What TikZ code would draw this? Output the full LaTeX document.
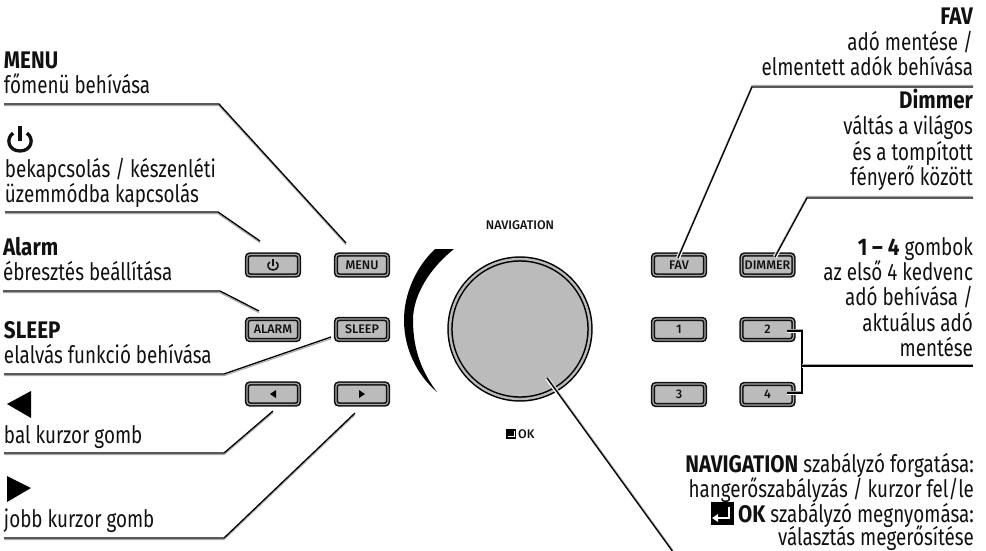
\documentclass[tikz,border=0pt]{standalone}
\usepackage{fontspec}
\setmainfont{Fira Sans}
\newfontfamily\lab[FakeStretch=0.785]{Fira Sans}
\newfontfamily\labb[FakeStretch=0.86,UprightFont=* Bold]{Fira Sans}
\newfontfamily\btnf[UprightFont=* Medium]{Fira Sans}
\newcommand{\bb}[1]{{\labb #1}}
\definecolor{bfill}{HTML}{BBBBBB}
\definecolor{dk}{HTML}{111111}
\begin{document}
\begin{tikzpicture}[x=1pt,y=-1pt,
  txt/.style={font=\lab\fontsize{24}{25}\selectfont,inner sep=0,outer sep=0,text=dk},
  tl/.style={txt,anchor=base west,align=left},
  tr/.style={txt,anchor=base east,align=right},
  btn/.style={draw=dk,double=gray!70,line width=1.6pt,double distance=1.2pt,fill=bfill,rounded corners=3pt,
    minimum width=52pt,minimum height=21pt,inner sep=0,text=dk,font=\btnf\fontsize{12.5}{13}\selectfont},
  conn/.style={line width=1.3pt,draw=black,line join=miter,
    preaction={draw=white,line width=4pt},
    preaction={draw=black!35,line width=1pt,transform canvas={yshift=#1}}},
  conn/.default=-1.7pt,
  powersize/.initial=5,
  powersym/.pic={\draw[line width=.3*\pgfkeysvalueof{/tikz/powersize}pt,line cap=butt,dk] (-.62*\pgfkeysvalueof{/tikz/powersize},-.62*\pgfkeysvalueof{/tikz/powersize})
      .. controls (-1.3*\pgfkeysvalueof{/tikz/powersize},-.2*\pgfkeysvalueof{/tikz/powersize}) and (-1.1*\pgfkeysvalueof{/tikz/powersize},\pgfkeysvalueof{/tikz/powersize}) .. (0,\pgfkeysvalueof{/tikz/powersize})
      .. controls (1.1*\pgfkeysvalueof{/tikz/powersize},\pgfkeysvalueof{/tikz/powersize}) and (1.3*\pgfkeysvalueof{/tikz/powersize},-.2*\pgfkeysvalueof{/tikz/powersize}) .. (.62*\pgfkeysvalueof{/tikz/powersize},-.62*\pgfkeysvalueof{/tikz/powersize});
    \draw[line width=.3*\pgfkeysvalueof{/tikz/powersize}pt,dk] (0,-1.25*\pgfkeysvalueof{/tikz/powersize}) -- (0,.1*\pgfkeysvalueof{/tikz/powersize});},
]
\useasboundingbox (0,0) rectangle (986,551);
% crescent
\fill[black] (435,249) .. controls (415,268) and (404,295) .. (404,320)
  .. controls (404,350) and (418,376) .. (437,392)
  .. controls (422,372) and (413,350) .. (413,320)
  .. controls (413,295) and (430,268) .. (454,249) -- cycle;
% knob
\node[circle,draw=black,double=gray!55,line width=1.5pt,double distance=2.4pt,fill=bfill,minimum size=140pt,inner sep=0] (knob) at (520,329) {};
\node[font=\btnf\fontsize{12.5}{13}\selectfont,text=dk,inner sep=0] (navlab) at (520,225) {NAVIGATION};
\node[fill=black,minimum size=10pt,inner sep=0] (okicon) at (511,434) {};
\draw[white,line width=.8pt] (514,431) -- (514,436) -- (508,436);
\node[font=\btnf\fontsize{12.5}{13}\selectfont,text=dk,inner sep=0,anchor=west] (oklab) at (518,434) {OK};
% buttons
\node[btn] (power) at (273,265) {};
\pic at (273,265) {powersym};
\node[btn] (menu) at (362,265) {MENU};
\node[btn] (alarm) at (273,329.5) {ALARM};
\node[btn] (sleep) at (362,329.5) {SLEEP};
\node[btn] (cleft) at (273,394) {};
\fill[black] (270,394) -- (276,390) -- (276,398) -- cycle;
\node[btn] (cright) at (362,394) {};
\fill[black] (365,394) -- (359,390) -- (359,398) -- cycle;
\node[btn] (fav) at (679,265) {FAV};
\node[btn] (dimmer) at (767.5,265) {DIMMER};
\node[btn] (b1) at (679,329.5) {1};
\node[btn] (b2) at (767.5,329.5) {2};
\node[btn] (b3) at (679,394.5) {3};
\node[btn] (b4) at (767.5,394.5) {4};
% connector points
\coordinate (menuL) at (4,104); \coordinate (menuB) at (219,104); \coordinate (menuE) at (346,243);
\coordinate (powL) at (5,212); \coordinate (powB) at (218,212); \coordinate (powE) at (260,241);
\coordinate (alaL) at (3,291); \coordinate (alaB) at (220,291); \coordinate (alaE) at (259,311);
\coordinate (sleL) at (4,374); \coordinate (sleB) at (224,374); \coordinate (sleE) at (331,337);
\coordinate (lefL) at (4,453); \coordinate (lefB) at (224,453); \coordinate (lefE) at (273,411);
\coordinate (rigL) at (4,538); \coordinate (rigB) at (224,538); \coordinate (rigE) at (355,413);
\coordinate (navS) at (547,378); \coordinate (navE) at (673,552);
\coordinate (favR) at (973,87); \coordinate (favB) at (752,87); \coordinate (favE) at (678,258);
\coordinate (dimR) at (973,198); \coordinate (dimB) at (807,198); \coordinate (dimE) at (775,257);
\coordinate (numR) at (973,366); \coordinate (numJ) at (802,366);
\coordinate (numT) at (802,331); \coordinate (numU) at (802,393);
\coordinate (n2E) at (787,331); \coordinate (n4E) at (787,393);
% connectors
\draw[conn] (menuL) -- (menuB) -- (menuE);
\draw[conn] (powL) -- (powB) -- (powE);
\draw[conn] (alaL) -- (alaB) -- (alaE);
\draw[conn] (sleL) -- (sleB) -- (sleE);
\draw[conn] (lefL) -- (lefB) -- (lefE);
\draw[conn] (rigL) -- (rigB) -- (rigE);
\draw[conn=1.7pt] (favR) -- (favB) -- (favE);
\draw[conn=1.7pt] (dimR) -- (dimB) -- (dimE);
\draw[conn=1.7pt] (n2E) -- (numT) -- (numU) -- (n4E);
\draw[conn=1.7pt] (numJ) -- (numR);
\draw[conn=1.7pt] (navS) -- (navE);
% left labels
\node[tl] (tmenu) at (4,69) {\bb{MENU}};
\node[tl] (tmenu2) at (4,94) {főmenü behívása};
\pic[powersize=11] at (20,140) {powersym};
\node[tl] (tpow) at (5,177) {bekapcsolás / készenléti};
\node[tl] (tpow2) at (5,202) {üzemmódba kapcsolás};
\node[tl] (talarm) at (3,255) {\bb{Alarm}};
\node[tl] (talarm2) at (3,280) {ébresztés beállítása};
\node[tl] (tsleep) at (4,338) {\bb{SLEEP}};
\node[tl] (tsleep2) at (4,363) {elalvás funkció behívása};
\fill[black] (7,404) -- (31,391) -- (31,418) -- cycle;
\node[tl] (tleft) at (4,443) {bal kurzor gomb};
\fill[black] (7,476) -- (31,488) -- (7,502) -- cycle;
\node[tl] (tright) at (4,527) {jobb kurzor gomb};
% right labels
\node[tr] (r1) at (973,25) {\bb{FAV}};
\node[tr] (r2) at (973,51) {adó mentése /};
\node[tr] (r3) at (973,76) {elmentett adók behívása};
\node[tr] (r4) at (973,109) {\bb{Dimmer}};
\node[tr] (r5) at (973,135) {váltás a világos};
\node[tr] (r6) at (973,160) {és a tompított};
\node[tr] (r7) at (973,185) {fényerő között};
\node[tr] (r8) at (973,255) {\bb{1 – 4} gombok};
\node[tr] (r9) at (973,280) {az első 4 kedvenc};
\node[tr] (r10) at (973,305) {adó behívása /};
\node[tr] (r11) at (973,331) {aktuálus adó};
\node[tr] (r12) at (973,356) {mentése};
\node[tr] (n1) at (974,472) {\bb{NAVIGATION} szabályzó forgatása:};
\node[tr] (n2) at (974,497) {hangerőszabályzás / kurzor fel/le};
\node[tr] (n3) at (974,522) {\bb{OK} szabályzó megnyomása:};
\node[tr] (n4) at (974,545) {választás megerősítése};
\node[fill=black,minimum width=23pt,minimum height=23pt,inner sep=0] (enter) at (722.5,513.5) {};
\draw[white,line width=2pt] (729,507) -- (729,518) -- (716,518);
\fill[white] (719,518) ++(-7,0) -- ++(6,-4) -- ++(0,8) -- cycle;
\end{tikzpicture}
\end{document}
